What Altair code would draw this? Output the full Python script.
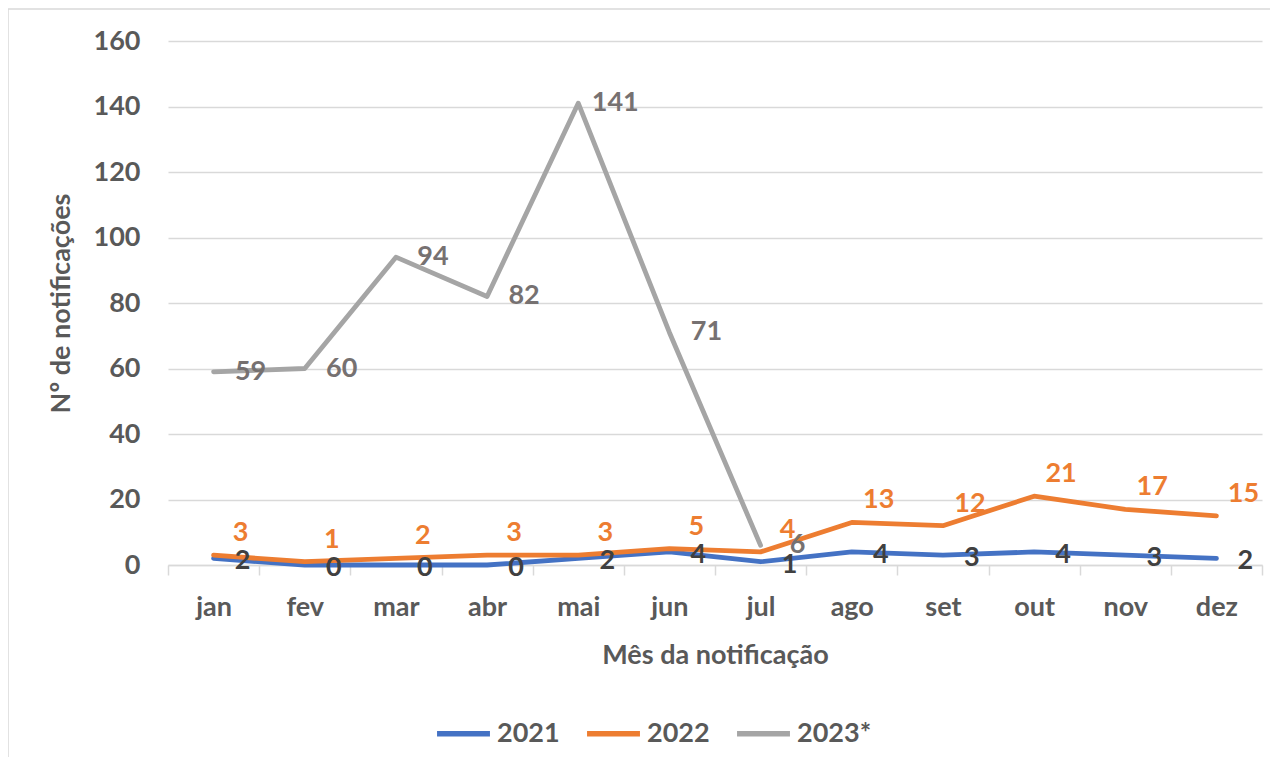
import altair as alt
import pandas as pd

months = ["jan", "fev", "mar", "abr", "mai", "jun", "jul", "ago", "set", "out", "nov", "dez"]
s2021 = [2, 0, 0, 0, 2, 4, 1, 4, 3, 4, 3, 2]
s2022 = [3, 1, 2, 3, 3, 5, 4, 13, 12, 21, 17, 15]
s2023 = [59, 60, 94, 82, 141, 71, 6, None, None, None, None, None]
series = ["2021", "2022", "2023*"]
line_colors = ["#4472C4", "#ED7D31", "#A5A5A5"]
label_colors = ["#404040", "#ED7D31", "#767171"]

rows = []
for name, vals in zip(series, [s2021, s2022, s2023]):
    for m, v in zip(months, vals):
        if v is not None:
            rows.append({"mes": m, "serie": name, "valor": v})
df = pd.DataFrame(rows)

FONT = "Lato"
FS = 27
W, H = 1094, 524

x_enc = alt.X("mes:N", sort=months,
              scale=alt.Scale(type="band", paddingInner=0, paddingOuter=0),
              axis=alt.Axis(title="Mês da notificação", labelAngle=0, tickBand="extent",
                            grid=False, domainColor="#D9D9D9", domainWidth=1.5,
                            tickColor="#D9D9D9", tickWidth=1.5, tickSize=10,
                            labelPadding=19, titlePadding=22))
y_enc = alt.Y("valor:Q", scale=alt.Scale(domain=[0, 160], nice=False),
              axis=alt.Axis(title="Nº de notificações", values=list(range(0, 161, 20)),
                            grid=True, gridColor="#D9D9D9", gridWidth=1.5,
                            domain=False, ticks=False, labelPadding=28,
                            titlePadding=18))

base = alt.Chart(df)

lines = base.mark_line(strokeWidth=4.8, strokeCap="round", strokeJoin="round").encode(
    x=x_enc, y=y_enc,
    color=alt.Color("serie:N", scale=alt.Scale(domain=series, range=line_colors),
                    legend=alt.Legend(title=None, orient="none", direction="horizontal",
                                      legendX=266, legendY=663,
                                      symbolType="stroke", symbolSize=2800,
                                      symbolStrokeWidth=5.5, columnPadding=16,
                                      labelOffset=4, labelFontSize=FS, labelFont=FONT,
                                      labelFontWeight="bold", labelColor="#595959")),
    order=alt.Order("serie:N"),
)

offsets = {"2021": (29, 3), "2022": (27, -22), "2023*": (37, 0)}
label_layers = []
for name, col in zip(series, label_colors):
    dx, dy = offsets[name]
    label_layers.append(
        base.transform_filter(alt.datum.serie == name).mark_text(
            font=FONT, fontSize=FS, fontWeight="bold", color=col,
            dx=dx, dy=dy, align="center", baseline="middle"
        ).encode(x=alt.X("mes:N", sort=months), y="valor:Q", text="valor:Q")
    )

frame = alt.Chart(pd.DataFrame({"a": [0]})).mark_rect(
    fill=None, stroke="#D9D9D9", strokeWidth=1.5
).encode(x=alt.value(-160), x2=alt.value(W + 40), y=alt.value(-32), y2=alt.value(H + 250))

chart = alt.layer(frame, lines, *label_layers).properties(
    width=W, height=H,
    autosize=alt.AutoSizeParams(type="none"),
    padding={"left": 160, "top": 33, "right": 8, "bottom": 192},
).configure_axis(
    labelFont=FONT, labelFontSize=FS, labelFontWeight="bold", labelColor="#595959",
    titleFont=FONT, titleFontSize=FS, titleFontWeight="bold", titleColor="#595959",
).configure_view(stroke=None)

chart.save("out.html", embed_options={"renderer": "svg", "actions": False})
